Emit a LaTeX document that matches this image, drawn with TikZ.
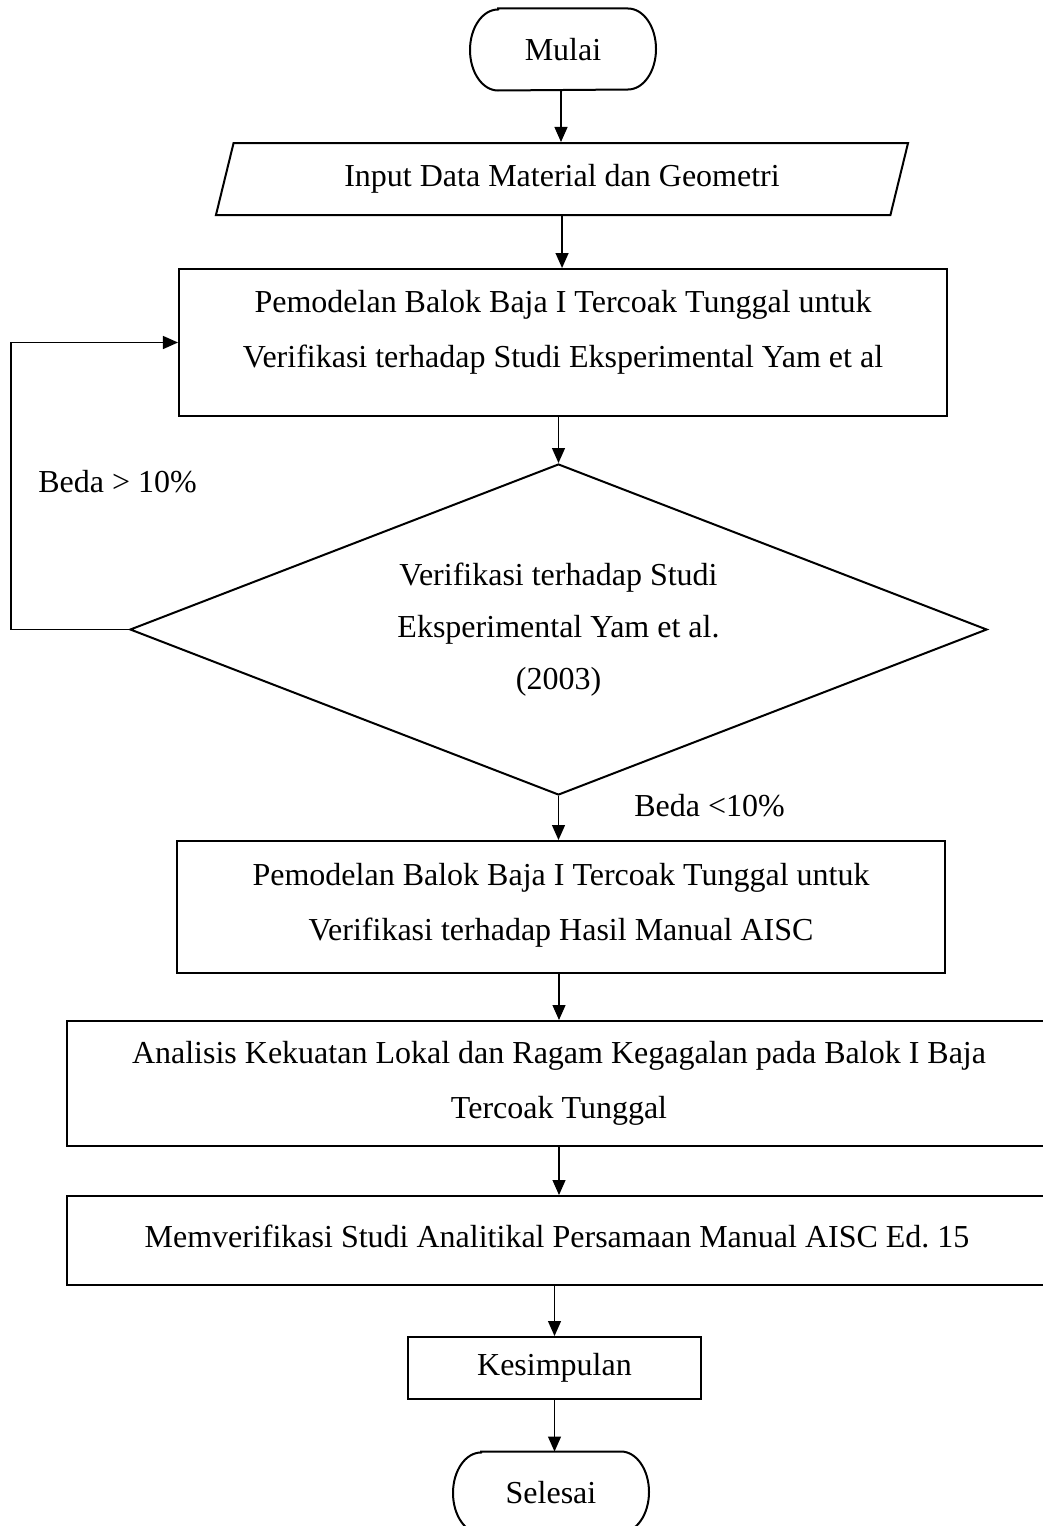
\documentclass[tikz,border=0pt,12pt]{standalone}
\usepackage{fontspec}
\setmainfont{Liberation Serif}
\usetikzlibrary{shapes.geometric, arrows.meta}

\begin{document}
\begin{tikzpicture}[x=0.4pt, y=-0.4pt,
                    every node/.style={font=\fontsize{12.8}{22}\selectfont},
                    box/.style={draw, line width=0.8pt, minimum width=307.2pt, inner sep=0pt},
                    txt/.style={align=center},
                    io/.style={draw, line width=0.8pt, trapezium, trapezium left angle=76,
                      trapezium right angle=104, trapezium stretches=true,
                      minimum width=277.2pt, minimum height=28.8pt},
                    decide/.style={draw, line width=0.8pt, diamond, aspect=2.59, inner sep=0pt,
                      minimum width=342.8pt, minimum height=132.4pt, align=center,
                      font=\fontsize{12.8}{20.8}\selectfont},
                    terminal/.style={minimum width=74pt, minimum height=32.4pt, inner sep=0pt},
                    arrow/.style={line width=0.5pt, -{Triangle[length=6pt,width=5.2pt]}}]
\useasboundingbox (0,0) rectangle (1043,1526);

\node[terminal] (mulai) at (563,49.5) {Mulai};
\node[io] (input) at (562,179) {Input Data Material dan Geometri};
\node[box, minimum height=58.8pt] (model) at (563,342.5) {};
\node[txt] (modeltext) at ([yshift=4.2pt]model.center)
  {Pemodelan Balok Baja I Tercoak Tunggal untuk\\Verifikasi terhadap Studi Eksperimental Yam et al};
\node[decide] (cek) at (558.5,629.5) {Verifikasi terhadap Studi\\Eksperimental Yam et al.\\(2003)};
\node (lebih) at (117.5,482) {Beda > 10\%};
\node (kurang) at (709.5,806) {Beda <10\%};
\node[box, minimum height=52.8pt] (manual) at (561,907) {};
\node[txt] (manualtext) at ([yshift=0.6pt]manual.center)
  {Pemodelan Balok Baja I Tercoak Tunggal untuk\\Verifikasi terhadap Hasil Manual AISC};
\node[box, minimum width=393.6pt, minimum height=50pt] (analisis) at (559,1083.5) {};
\node[txt] (analisistext) at (analisis.center)
  {Analisis Kekuatan Lokal dan Ragam Kegagalan pada Balok I Baja\\Tercoak Tunggal};
\node[box, minimum width=393.6pt, minimum height=35.6pt] (persamaan) at (559,1240.5) {};
\node[txt] (persamaantext) at ([xshift=-0.8pt, yshift=1.8pt]persamaan.center)
  {Memverifikasi Studi Analitikal Persamaan Manual AISC Ed.\ 15};
\node[box, minimum width=117.2pt, minimum height=24.8pt] (simpul) at (554.5,1368) {Kesimpulan};
\node[terminal, minimum width=78pt] (selesai) at (551,1492.5) {Selesai};

\foreach \t in {mulai,selesai}
  \draw[line width=0.8pt] ([xshift=11.2pt]\t.north west) -- ([xshift=-11.2pt]\t.north east)
    arc[start angle=90, end angle=-90, x radius=11.2pt, y radius=16.2pt]
    -- ([xshift=11.2pt]\t.south west)
    arc[start angle=270, end angle=90, x radius=11.2pt, y radius=16.2pt] -- cycle;

\draw[arrow] ([xshift=-0.8pt]mulai.south) -- ([xshift=-0.8pt]mulai.south |- input.north);
\draw[arrow] (input.south) -- (input.south |- model.north);
\draw[arrow] (cek.north |- model.south) -- (cek.north);
\draw[arrow] (cek.south) -- (cek.south |- manual.north);
\draw[arrow] (analisis.north |- manual.south) -- (analisis.north);
\draw[arrow] (analisis.south) -- (analisis.south |- persamaan.north);
\draw[arrow] (simpul.north |- persamaan.south) -- (simpul.north);
\draw[arrow] (simpul.south) -- (simpul.south |- selesai.north);
\draw[arrow] (cek.west) -- ++(-118,0) |- (model.west);
\end{tikzpicture}
\end{document}
